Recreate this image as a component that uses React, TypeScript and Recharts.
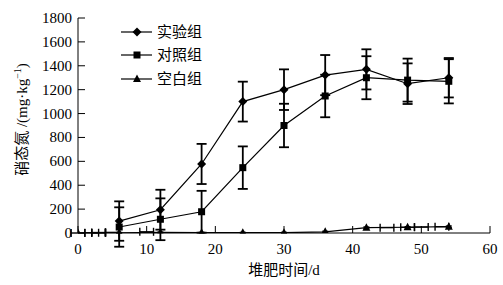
import React from "react"
import { ComposedChart, Line, XAxis, YAxis, ErrorBar, Label } from "recharts"

// 堆肥时间 (d) and ±1 d horizontal spread
const days = [0, 6, 12, 18, 24, 30, 36, 42, 48, 54]
const dayErr = [1, 1, 1, 1, 1, 1, 1, 1, 1, 1]

// 硝态氮 (mg·kg⁻¹)
const shiyan = [null, 100, 195, 578, 1100, 1200, 1322, 1370, 1250, 1300]
const shiyanErr = [null, 165, 167, 168, 167, 170, 168, 168, 170, 165]
const duizhao = [null, 50, 115, 178, 547, 900, 1147, 1300, 1280, 1270]
const duizhaoErr = [null, 165, 175, 175, 178, 182, 178, 180, 180, 185]
const kongbai = [0, 2, 5, 3, 3, 3, 10, 45, 48, 53]
const kongbaiErr = [0, 3, 3, 3, 3, 3, 5, 6, 6, 6]

const seriesNames = ["实验组", "对照组", "空白组"]
const seriesKeys = ["shiyan", "duizhao", "kongbai"]
const seriesShapes = ["diamond", "square", "triangle"]

const xTicks = [0, 10, 20, 30, 40, 50, 60]
const yTicks = [0, 200, 400, 600, 800, 1000, 1200, 1400, 1600, 1800]

const data = days.map((d, i) => ({
  day: d,
  dayErr: dayErr[i],
  shiyan: shiyan[i],
  shiyanErr: shiyanErr[i],
  duizhao: duizhao[i],
  duizhaoErr: duizhaoErr[i],
  kongbai: kongbai[i],
  kongbaiErr: kongbaiErr[i],
}))

const FONT = "'Liberation Serif', 'Times New Roman', 'Noto Sans CJK SC', serif"

function Marker({ kind, cx, cy }: { kind: string; cx?: number; cy?: number }) {
  if (cx == null || cy == null || isNaN(cx) || isNaN(cy)) return null
  if (kind === "diamond") {
    const r = 4.5
    return <path d={`M${cx},${cy - r}L${cx + r},${cy}L${cx},${cy + r}L${cx - r},${cy}Z`} fill="#000" />
  }
  if (kind === "square") {
    return <rect x={cx - 3.5} y={cy - 3.5} width={7} height={7} fill="#000" />
  }
  return <path d={`M${cx},${cy - 4.5}L${cx + 4},${cy + 3}L${cx - 4},${cy + 3}Z`} fill="#000" />
}

function LegendBox() {
  return (
    <div style={{ position: "absolute", left: 119, top: 20 }}>
      {seriesNames.map((name, i) => (
        <div key={name} style={{ display: "flex", alignItems: "center", height: 23.5 }}>
          <svg width={36} height={12} style={{ display: "block" }}>
            <line x1={2} y1={6} x2={33} y2={6} stroke="#000" strokeWidth={1.2} />
            <Marker kind={seriesShapes[i]} cx={18} cy={6} />
          </svg>
          <span style={{ fontSize: 15, lineHeight: "16px", fontFamily: FONT, marginLeft: 2, color: "#000" }}>
            {name}
          </span>
        </div>
      ))}
    </div>
  )
}

function YTick({ x, y, payload }: any) {
  return (
    <g>
      <line x1={x} y1={y} x2={x + 7} y2={y} stroke="#000" strokeWidth={1} />
      <text x={x - 6} y={y + 5} textAnchor="end" fontSize={15} fill="#000">
        {payload.value}
      </text>
    </g>
  )
}

function XTick({ x, y, payload }: any) {
  return (
    <g>
      <line x1={x} y1={y} x2={x} y2={y - 7} stroke="#000" strokeWidth={1} />
      <text x={x} y={y + 21} textAnchor="middle" fontSize={15} fill="#000">
        {payload.value}
      </text>
    </g>
  )
}

function XTitle({ viewBox }: any) {
  return (
    <text x={viewBox.x + viewBox.width / 2} y={viewBox.y + 42} textAnchor="middle" fontSize={15} fill="#000">
      堆肥时间/d
    </text>
  )
}

function YTitle({ viewBox }: any) {
  const x = 27
  const y = viewBox.y + viewBox.height / 2 - 6
  return (
    <text x={x} y={y} textAnchor="middle" fontSize={15} fill="#000" transform={`rotate(-90, ${x}, ${y})`}>
      硝态氮 /(mg·kg
      <tspan fontSize={10} dy={-6}>−1</tspan>
      <tspan dy={6}>)</tspan>
    </text>
  )
}

export default function App() {
  const errProps = { stroke: "#000", isAnimationActive: false } as const
  return (
    <div style={{ position: "absolute", left: 0, top: 0, width: 503, height: 285, background: "#fff", fontFamily: FONT }}>
      <ComposedChart width={503} height={285} data={data} margin={{ top: 18, right: 13, left: 10, bottom: 7 }}>
        <XAxis
          dataKey="day"
          type="number"
          domain={[0, 60]}
          allowDataOverflow
          ticks={xTicks}
          interval={0}
          height={45}
          tickSize={0}
          tickMargin={0}
          tickLine={false}
          tick={<XTick />}
          axisLine={{ stroke: "#000", strokeWidth: 1 }}
        >
          <Label content={<XTitle />} />
        </XAxis>
        <YAxis
          type="number"
          domain={[0, 1800]}
          allowDataOverflow
          ticks={yTicks}
          interval={0}
          width={68}
          tickSize={0}
          tickMargin={0}
          tickLine={false}
          tick={<YTick />}
          axisLine={{ stroke: "#000", strokeWidth: 1 }}
        >
          <Label content={<YTitle />} />
        </YAxis>
        {seriesKeys.map((key, i) => (
          <Line
            key={key}
            dataKey={key}
            name={seriesNames[i]}
            stroke="#000"
            strokeWidth={1.2}
            isAnimationActive={false}
            dot={(p: any) => <Marker key={`${key}${p.index}`} kind={seriesShapes[i]} cx={p.cx} cy={p.cy} />}
            activeDot={false}
          >
            <ErrorBar
              dataKey={`${key}Err`}
              direction="y"
              width={key === "kongbai" ? 3 : 5}
              strokeWidth={key === "kongbai" ? 1.2 : 1.8}
              {...errProps}
            />
            <ErrorBar dataKey="dayErr" direction="x" width={4} strokeWidth={1.4} {...errProps} />
          </Line>
        ))}
      </ComposedChart>
      <LegendBox />
    </div>
  )
}
